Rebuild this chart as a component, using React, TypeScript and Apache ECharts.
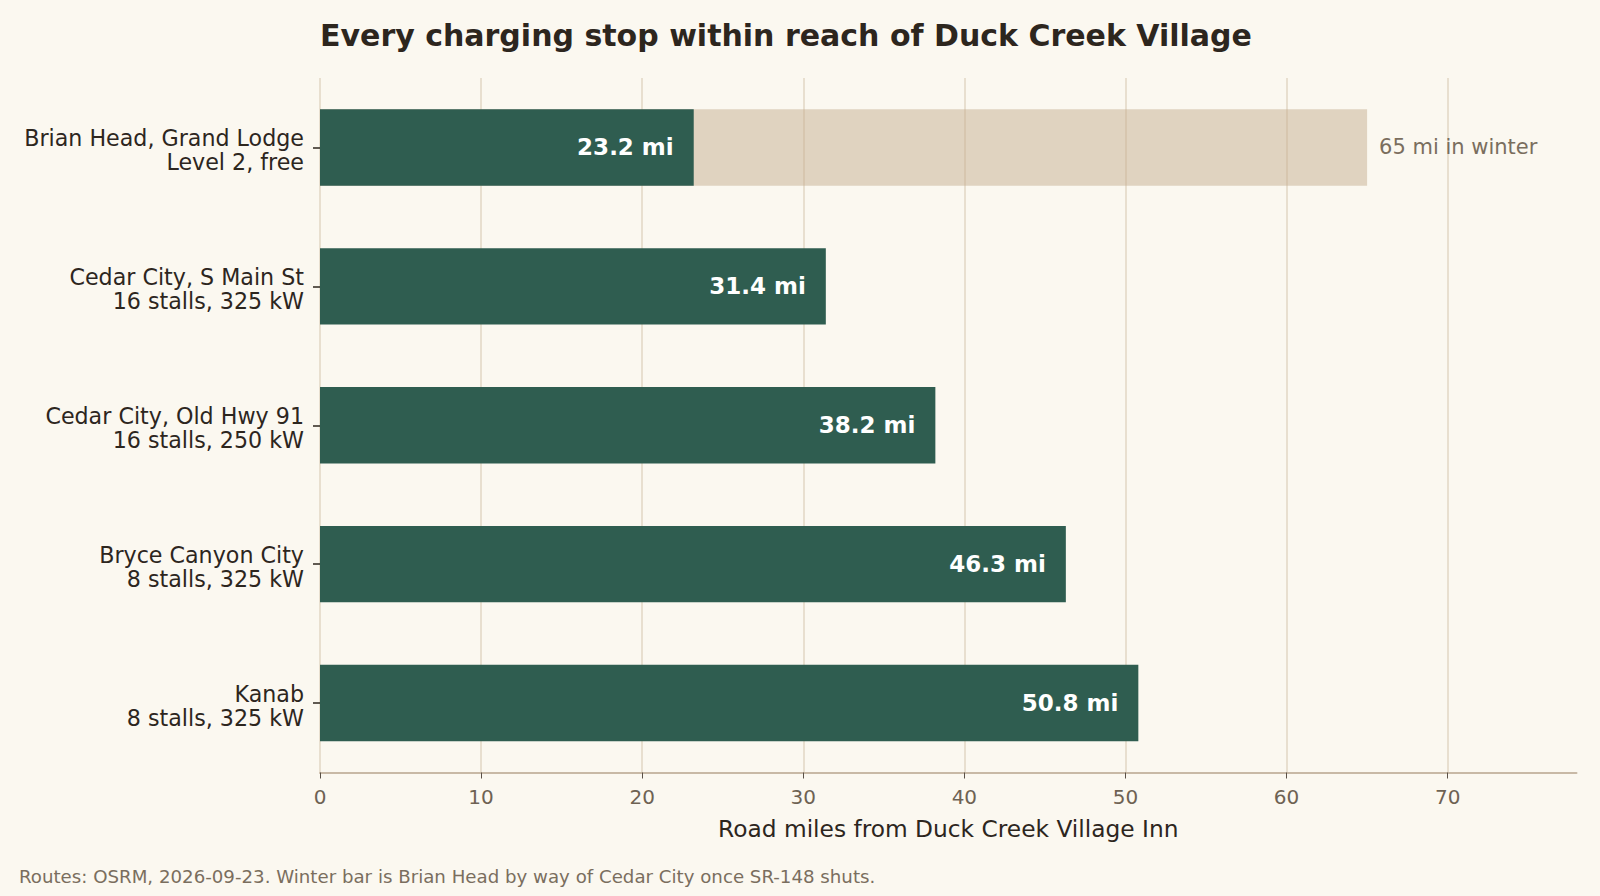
import React, { useEffect, useRef } from "react";
import * as echarts from "echarts";

const stops = [
  "Brian Head, Grand Lodge\nLevel 2, free",
  "Cedar City, S Main St\n16 stalls, 325 kW",
  "Cedar City, Old Hwy 91\n16 stalls, 250 kW",
  "Bryce Canyon City\n8 stalls, 325 kW",
  "Kanab\n8 stalls, 325 kW",
];
const summerMiles = [23.2, 31.4, 38.2, 46.3, 50.8];
const winterMiles = [65, null, null, null, null];
const xTicks = [0, 10, 20, 30, 40, 50, 60, 70];

const FONT = "DejaVu Sans";

export default function App() {
  const ref = useRef<HTMLDivElement>(null);
  useEffect(() => {
    if (!ref.current) return;
    const chart = echarts.init(ref.current, undefined, { renderer: "svg" });
    chart.setOption({
      animation: false,
      backgroundColor: "#fbf8f0",
      textStyle: { fontFamily: FONT },
      title: {
        text: "Every charging stop within reach of Duck Creek Village",
        left: 320,
        top: 20,
        padding: 0,
        textStyle: { fontFamily: FONT, fontSize: 30, fontWeight: "bold", color: "#2d261e" },
      },
      grid: { left: 320, right: 23.5, top: 78, bottom: 123.5, containLabel: false },
      xAxis: {
        type: "value",
        min: 0,
        max: 78,
        interval: 10,
        name: "Road miles from Duck Creek Village Inn",
        nameLocation: "middle",
        nameGap: 44,
        nameTextStyle: { fontFamily: FONT, fontSize: 23.3, color: "#2d261e" },
        axisLine: { show: true, lineStyle: { color: "#c8b9a6", width: 2 } },
        axisTick: { show: true, length: 6, customValues: xTicks, lineStyle: { color: "#5a5046", width: 1 } },
        axisLabel: {
          margin: 14,
          fontFamily: FONT,
          fontSize: 20,
          color: "#6e6253",
          customValues: xTicks,
        },
        splitLine: { show: true, lineStyle: { color: "#e2d7c5", width: 1.5 } },
      },
      yAxis: {
        type: "category",
        data: stops,
        inverse: true,
        axisLine: { show: false },
        axisTick: { show: true, alignWithLabel: true, length: 7, lineStyle: { color: "#2d261e", width: 1.5 } },
        axisLabel: {
          margin: 16,
          align: "right",
          formatter: (v: string) => {
            const [a, b] = v.split("\n");
            return `{s|}\n{t|${a}}\n{t|${b}}`;
          },
          rich: {
            s: { lineHeight: 6, fontSize: 6 },
            t: {
              fontFamily: FONT,
              fontSize: 22.2,
              lineHeight: 24,
              color: "#2d261e",
              align: "right",
            },
          },
        },
      },
      series: [
        {
          type: "bar",
          data: winterMiles,
          barWidth: "55%",
          barGap: "-100%",
          itemStyle: { color: "rgba(197,174,144,0.5)" },
          label: {
            show: true,
            position: "right",
            distance: 12,
            formatter: (p: any) => `${p.value} mi in winter`,
            fontFamily: FONT,
            fontSize: 21,
            color: "#7a6e5e",
          },
        },
        {
          type: "bar",
          data: summerMiles,
          barWidth: "55%",
          barGap: "-100%",
          itemStyle: { color: "#2f5d50" },
          label: {
            show: true,
            position: "insideRight",
            distance: 20,
            formatter: (p: any) => `${p.value.toFixed(1)} mi`,
            fontFamily: FONT,
            fontSize: 23,
            fontWeight: "bold",
            color: "#ffffff",
          },
        },
      ],
      graphic: [
        {
          type: "text",
          left: 19,
          top: 867,
          style: {
            text: "Routes: OSRM, 2026-09-23. Winter bar is Brian Head by way of Cedar City once SR-148 shuts.",
            fontFamily: FONT,
            fontSize: 18.2,
            fill: "#7a6e5e",
          },
        },
      ],
    });
    return () => chart.dispose();
  }, []);
  return (
    <div
      ref={ref}
      style={{ position: "fixed", left: 0, top: 0, width: 1600, height: 896 }}
    />
  );
}
